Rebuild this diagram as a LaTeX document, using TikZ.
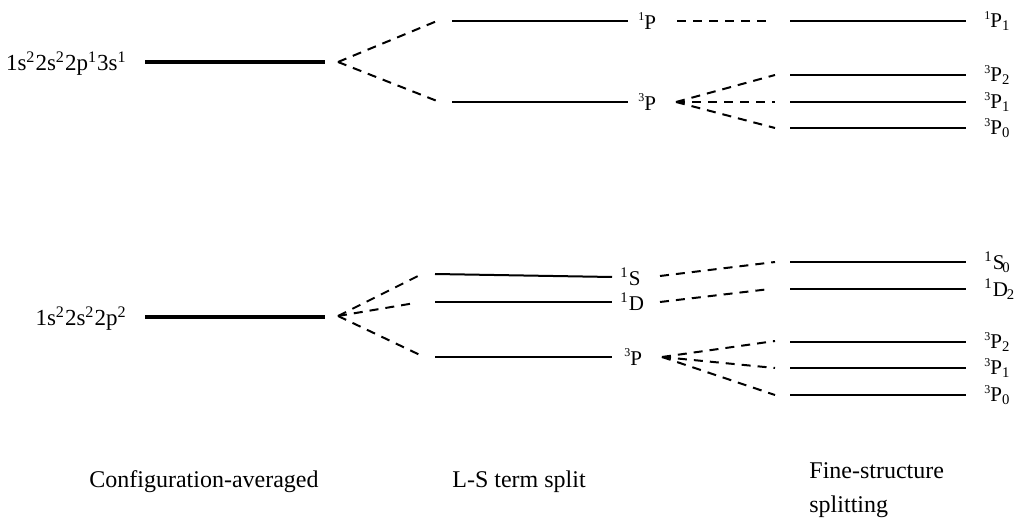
\documentclass[tikz,border=0pt]{standalone}
\usepackage{fontspec}
\setmainfont{Liberation Serif}
\usetikzlibrary{positioning}
\newcommand{\tinysup}[1]{\raisebox{0.85ex}{\fontsize{6}{5}\selectfont #1}}
\begin{document}
\begin{tikzpicture}[x=0.5pt,y=-0.5pt,font=\fontsize{10.5}{20}\selectfont]
  \tikzstyle{cfg}=[line width=2pt]
  \tikzstyle{level}=[line width=1pt]
  \tikzstyle{split}=[line width=1pt,dash pattern=on 4.5pt off 3.5pt]
  \tikzstyle{lab}=[inner sep=0pt,anchor=west]
  \tikzstyle{big}=[inner sep=0pt,font=\fontsize{12}{17}\selectfont]
  \tikzstyle{conf}=[inner sep=0pt,anchor=base east,font=\fontsize{11.5}{17}\selectfont]
  \useasboundingbox (0,0) rectangle (1016,523);
  % upper configuration
  \coordinate (cA1) at (145,62);
  \coordinate (cA2) at (325,62);
  \coordinate (sA) at (338,62);
  \node[conf] (nA) at (127,71) {1s\textsuperscript{2}2s\textsuperscript{2}2p\textsuperscript{1}3s\textsuperscript{1}};
  \draw[cfg] (cA1) -- (cA2);
  \coordinate (tA1a) at (452,21);
  \coordinate (tA1b) at (628,21);
  \coordinate (tA3a) at (452,102);
  \coordinate (tA3b) at (628,102);
  \draw[level] (tA1a) -- (tA1b);
  \draw[level] (tA3a) -- (tA3b);
  \draw[split] (sA) -- (437,21);
  \draw[split] (sA) -- (437,101);
  \node[lab,right=5pt of tA1b] (lA1) {\tinysup{1}P};
  \node[lab,right=5pt of tA3b] (lA3) {\tinysup{3}P};
  \coordinate (fA1a) at (790,21);   \coordinate (fA1b) at (966,21);
  \coordinate (fA2a) at (790,75);   \coordinate (fA2b) at (966,75);
  \coordinate (fA3a) at (790,102);  \coordinate (fA3b) at (966,102);
  \coordinate (fA4a) at (790,128);  \coordinate (fA4b) at (966,128);
  \draw[level] (fA1a) -- (fA1b);
  \draw[level] (fA2a) -- (fA2b);
  \draw[level] (fA3a) -- (fA3b);
  \draw[level] (fA4a) -- (fA4b);
  \coordinate (sA1) at (677,21);
  \coordinate (sA3) at (676,102);
  \draw[split] (sA1) -- (768,21);
  \draw[split] (sA3) -- (775,75);
  \draw[split] (sA3) -- (775,102);
  \draw[split] (sA3) -- (775,128);
  \node[lab,right=9pt of fA1b] (gA1) {\tinysup{1}P\textsubscript{1}};
  \node[lab,right=9pt of fA2b] (gA2) {\tinysup{3}P\textsubscript{2}};
  \node[lab,right=9pt of fA3b] (gA3) {\tinysup{3}P\textsubscript{1}};
  \node[lab,right=9pt of fA4b] (gA4) {\tinysup{3}P\textsubscript{0}};
  % lower configuration
  \coordinate (cB1) at (145,317);
  \coordinate (cB2) at (325,317);
  \coordinate (sB) at (338,316);
  \node[conf] (nB) at (127,326) {1s\textsuperscript{2}2s\textsuperscript{2}2p\textsuperscript{2}};
  \draw[cfg] (cB1) -- (cB2);
  \coordinate (tBSa) at (435,274);
  \coordinate (tBSb) at (612,277);
  \coordinate (tBDa) at (435,302);
  \coordinate (tBDb) at (612,302);
  \coordinate (tBPa) at (435,357);
  \coordinate (tBPb) at (612,357);
  \draw[level] (tBSa) -- (tBSb);
  \draw[level] (tBDa) -- (tBDb);
  \draw[level] (tBPa) -- (tBPb);
  \draw[split] (sB) -- (420,275);
  \draw[split] (sB) -- (415,303);
  \draw[split] (sB) -- (420,355);
  \node[lab,right=4pt of tBSb] (lBS) {\textsuperscript{1}S};
  \node[lab,right=4pt of tBDb] (lBD) {\textsuperscript{1}D};
  \node[lab,right=6pt of tBPb] (lBP) {\tinysup{3}P};
  \coordinate (fB1a) at (790,262);  \coordinate (fB1b) at (966,262);
  \coordinate (fB2a) at (790,289);  \coordinate (fB2b) at (966,289);
  \coordinate (fB3a) at (790,342);  \coordinate (fB3b) at (966,342);
  \coordinate (fB4a) at (790,368);  \coordinate (fB4b) at (966,368);
  \coordinate (fB5a) at (790,395);  \coordinate (fB5b) at (966,395);
  \draw[level] (fB1a) -- (fB1b);
  \draw[level] (fB2a) -- (fB2b);
  \draw[level] (fB3a) -- (fB3b);
  \draw[level] (fB4a) -- (fB4b);
  \draw[level] (fB5a) -- (fB5b);
  \coordinate (sBS) at (660,276);
  \coordinate (sBD) at (660,302);
  \coordinate (sBP) at (662,357);
  \draw[split] (sBS) -- (775,262);
  \draw[split] (sBD) -- (770,289);
  \draw[split] (sBP) -- (775,341);
  \draw[split] (sBP) -- (775,368);
  \draw[split] (sBP) -- (775,395);
  \node[lab,right=9pt of fB1b] (gB1) {\textsuperscript{1}S\kern-1pt\textsubscript{0}};
  \node[lab,right=9pt of fB2b] (gB2) {\textsuperscript{1}D\kern-0.5pt\textsubscript{2}};
  \node[lab,right=9pt of fB3b] (gB3) {\tinysup{3}P\textsubscript{2}};
  \node[lab,right=9pt of fB4b] (gB4) {\tinysup{3}P\textsubscript{1}};
  \node[lab,right=9pt of fB5b] (gB5) {\tinysup{3}P\textsubscript{0}};
  % column titles
  \node[big,anchor=base] (hCfg) at (204,487) {Configuration-averaged};
  \node[big,anchor=base] (hLS) at (519,487) {L-S term split};
  \node[big,align=left,anchor=base west] (hFine) at (809,512) {Fine-structure\\splitting};
\end{tikzpicture}
\end{document}
